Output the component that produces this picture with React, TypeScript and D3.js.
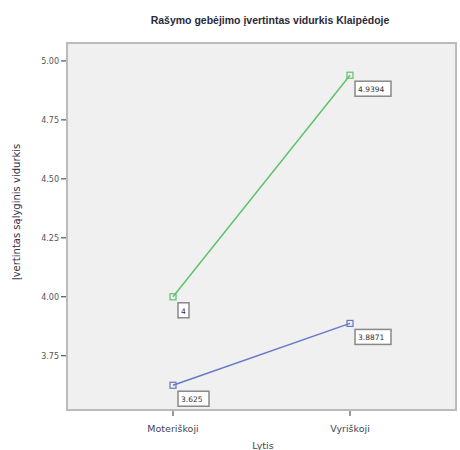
import * as d3 from "d3";

const categories = ["Moteriškoji", "Vyriškoji"];
const greenValues = [4, 4.9394];
const blueValues = [3.625, 3.8871];
const greenLabels = ["4", "4.9394"];
const blueLabels = ["3.625", "3.8871"];
const yTicks = [3.75, 4.0, 4.25, 4.5, 4.75, 5.0];

const W = 460;
const H = 450;
const left = 67;
const right = 456;
const top = 43;
const bottom = 410;

export default function App() {
  const x = d3.scalePoint<string>().domain(categories).range([173, 350]);
  const y = d3.scaleLinear().domain([3.52, 5.076]).range([bottom, top]);

  const line = d3
    .line<number>()
    .x((_, i) => x(categories[i]) as number)
    .y((d) => y(d));

  const series = [
    { values: greenValues, labels: greenLabels, color: "#5cc46c" },
    { values: blueValues, labels: blueLabels, color: "#6678c8" },
  ];

  return (
    <svg
      width={W}
      height={H}
      style={{ position: "absolute", left: 0, top: 0, fontFamily: "'DejaVu Sans', sans-serif" }}
    >
      <rect width={W} height={H} fill="#fff" />
      <text x={270} y={24} textAnchor="middle" fontSize={10.5} fontWeight="bold" fill="#2a2a3a" fontFamily="'Liberation Sans', sans-serif">
        Rašymo gebėjimo įvertintas vidurkis Klaipėdoje
      </text>
      <rect x={left} y={top} width={right - left} height={bottom - top} fill="#f0f0f0" stroke="#bbb" strokeWidth={2} />
      {yTicks.map((t) => (
        <g key={t}>
          <line x1={left - 6} x2={left - 1} y1={y(t)} y2={y(t)} stroke="#333" strokeWidth={1} />
          <text x={left - 8} y={y(t) + 3} textAnchor="end" fontSize={8} fill="#555">
            {t.toFixed(2)}
          </text>
        </g>
      ))}
      {categories.map((c) => (
        <g key={c}>
          <line x1={x(c)} x2={x(c)} y1={bottom + 1} y2={bottom + 6} stroke="#333" strokeWidth={1} />
          <text x={x(c)} y={432} textAnchor="middle" fontSize={9.5} fill="#445">
            {c}
          </text>
        </g>
      ))}
      <text x={263} y={449} textAnchor="middle" fontSize={9.5} fill="#445">
        Lytis
      </text>
      <text
        transform={`translate(20,${212}) rotate(-90)`}
        textAnchor="middle"
        fontSize={10}
        fill="#334"
      >
        Įvertintas sąlyginis vidurkis
      </text>
      {series.map((s, si) => (
        <g key={si}>
          <path d={line(s.values) ?? ""} fill="none" stroke={s.color} strokeWidth={1.5} />
          {s.values.map((v, i) => {
            const px = x(categories[i]) as number;
            const py = y(v);
            const lbl = s.labels[i];
            const bw = lbl.length * 5 + 6;
            return (
              <g key={i}>
                <rect x={px - 3} y={py - 3} width={6} height={6} fill="none" stroke={s.color} strokeWidth={1.2} />
                <rect x={px + 5} y={py + 6} width={bw} height={15} fill="#fff" stroke="#888" strokeWidth={1.5} />
                <text x={px + 8} y={py + 17} fontSize={7.5} fill="#333">
                  {lbl}
                </text>
              </g>
            );
          })}
        </g>
      ))}
    </svg>
  );
}
